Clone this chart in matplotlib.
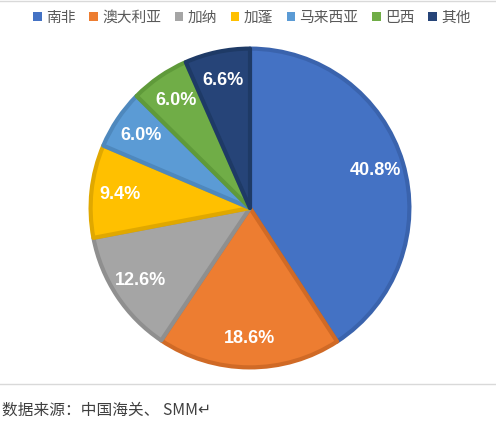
import matplotlib.pyplot as plt
from matplotlib.lines import Line2D
from matplotlib.patches import Patch

countries = ["南非", "澳大利亚", "加纳", "加蓬", "马来西亚", "巴西", "其他"]
shares = [40.8, 18.6, 12.6, 9.4, 6.0, 6.0, 6.6]
fill_colors = ["#4472C4", "#ED7D31", "#A5A5A5", "#FFC000", "#5B9BD5", "#70AD47", "#264478"]
edge_colors = ["#3A63AD", "#D06A26", "#8F8F8F", "#E0A800", "#4E88BD", "#5F9A3A", "#1E3A66"]
source_text = "数据来源：中国海关、 SMM↵"

plt.rcParams["font.family"] = ["Noto Sans CJK SC", "DejaVu Sans"]

fig = plt.figure(figsize=(4.96, 4.28), dpi=100)

# pie area, kept square in pixels
ax = fig.add_axes([89 / 496, 59 / 428, 322 / 496, 322 / 428])
wedges, _, autotexts = ax.pie(
    shares,
    colors=fill_colors,
    startangle=90,
    counterclock=False,
    radius=0.99,
    autopct="%.1f%%",
    pctdistance=0.82,
    wedgeprops=dict(linewidth=3, joinstyle="round"),
)
for w, ec in zip(wedges, edge_colors):
    w.set_edgecolor(ec)
for t in autotexts:
    t.set_color("white")
    t.set_fontsize(13)
    t.set_fontweight("bold")
    t.set_family(["Liberation Sans", "DejaVu Sans"])
ax.set_xlim(-1, 1)
ax.set_ylim(-1, 1)
ax.set_aspect("equal")
ax.axis("off")

handles = [Patch(facecolor=c, edgecolor="none") for c in fill_colors]
fig.legend(
    handles,
    countries,
    loc="center",
    bbox_to_anchor=(252 / 496, 1 - 18 / 428),
    ncol=len(countries),
    frameon=False,
    fontsize=10.6,
    handlelength=0.55,
    handleheight=0.55,
    handletextpad=0.3,
    columnspacing=0.95,
    labelcolor="#595959",
)

# thin rules at the top and above the source note
fig.add_artist(Line2D([0, 1], [1 - 1 / 428, 1 - 1 / 428], color="#D9D9D9", lw=1))
fig.add_artist(Line2D([0, 1], [1 - 384 / 428, 1 - 384 / 428], color="#D9D9D9", lw=1))

fig.text(2 / 496, 1 - 410 / 428, source_text, fontsize=11.3, color="#404040",
         ha="left", va="center")

fig.savefig("out.png", dpi=100)
